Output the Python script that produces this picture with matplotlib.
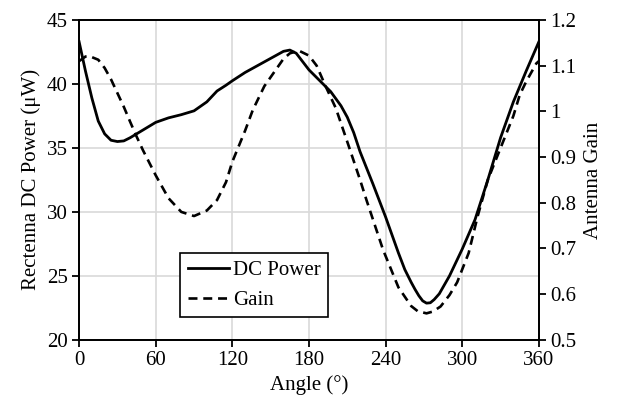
import matplotlib.pyplot as plt

plt.rcParams['font.family'] = ['Liberation Serif', 'DejaVu Serif']
plt.rcParams['font.size'] = 15

# DC power (uW)
dc_angle = [0, 5, 10, 15, 20, 25, 30, 35, 40, 45, 50, 60, 70, 80, 90, 100, 108,
            115, 120, 130, 140, 150, 160, 165, 170, 180, 190, 197, 205, 210, 215,
            220, 230, 240, 250, 255, 260, 263, 266, 269, 272, 275, 278, 282, 286,
            290, 300, 310, 320, 330, 340, 350, 360]
dc_power = [43.3, 41.0, 38.9, 37.1, 36.1, 35.6, 35.5, 35.55, 35.8, 36.1, 36.4,
            37.0, 37.35, 37.6, 37.9, 38.6, 39.45, 39.9, 40.25, 40.9, 41.45, 42.0,
            42.55, 42.65, 42.4, 41.1, 40.1, 39.4, 38.3, 37.4, 36.2, 34.7, 32.2,
            29.6, 26.8, 25.5, 24.5, 23.95, 23.45, 23.05, 22.87, 22.9, 23.15,
            23.6, 24.3, 25.0, 27.1, 29.4, 32.5, 35.8, 38.6, 41.0, 43.3]

# antenna gain
g_angle = [0, 5, 8, 15, 20, 25, 30, 35, 40, 45, 50, 60, 70, 80, 90, 100, 108,
           115, 120, 130, 136, 145, 152, 160, 165, 172, 180, 186, 193, 201, 211,
           220, 225, 238, 250, 260, 265, 272, 277, 283, 290, 296, 305, 312, 320,
           330, 340, 345, 350, 358, 360]
gain = [1.11, 1.12, 1.121, 1.113, 1.095, 1.07, 1.04, 1.01, 0.977, 0.945, 0.915,
        0.86, 0.81, 0.78, 0.771, 0.783, 0.806, 0.845, 0.89, 0.958, 1.003, 1.055,
        1.083, 1.115, 1.127, 1.133, 1.122, 1.10, 1.055, 1.007, 0.925, 0.85,
        0.806, 0.697, 0.615, 0.574, 0.563, 0.558, 0.562, 0.573, 0.598, 0.626,
        0.69, 0.77, 0.85, 0.92, 0.99, 1.036, 1.065, 1.105, 1.11]

x_ticks = [0, 60, 120, 180, 240, 300, 360]
left_ticks = [20, 25, 30, 35, 40, 45]
right_ticks = [0.5, 0.6, 0.7, 0.8, 0.9, 1.0, 1.1, 1.2]
right_labels = ['0.5', '0.6', '0.7', '0.8', '0.9', '1', '1.1', '1.2']

fig = plt.figure(figsize=(6.18, 4.08), dpi=100)
ax = fig.add_axes([0.128, 0.167, 0.744, 0.784])
ax2 = ax.twinx()

l1, = ax.plot(dc_angle, dc_power, color='black', lw=2.0, label='DC Power')
l2, = ax2.plot(g_angle, gain, color='black', lw=1.9, ls=(0, (3.4, 2.2)), label='Gain')

ax.set_xlim(0, 360)
ax.set_ylim(20, 45)
ax2.set_ylim(0.5, 1.2)
ax.set_xticks(x_ticks)
ax.set_yticks(left_ticks)
ax2.set_yticks(right_ticks)
ax2.set_yticklabels(right_labels)

ax.grid(True, color='#d9d9d9', lw=1.2)
ax.set_axisbelow(True)

for a in (ax, ax2):
    for s in a.spines.values():
        s.set_linewidth(1.3)
        s.set_color('black')
    a.tick_params(direction='out', length=5, width=1.3, labelsize=15, pad=3)

ax.set_xlabel('Angle (°)', fontsize=15, labelpad=4)
ax.set_ylabel('Rectenna DC Power (μW)', fontsize=15, labelpad=4)
ax2.set_ylabel('Antenna Gain', fontsize=15, labelpad=6)

leg = ax2.legend(handles=[l1, l2], loc='lower left', bbox_to_anchor=(0.22, 0.07),
                 fancybox=False, framealpha=1, edgecolor='black',
                 handlelength=2.0, handletextpad=0.2, borderpad=0.35,
                 labelspacing=0.5, fontsize=15, borderaxespad=0)
leg.get_frame().set_linewidth(1.2)

fig.savefig('out.png', dpi=100)
